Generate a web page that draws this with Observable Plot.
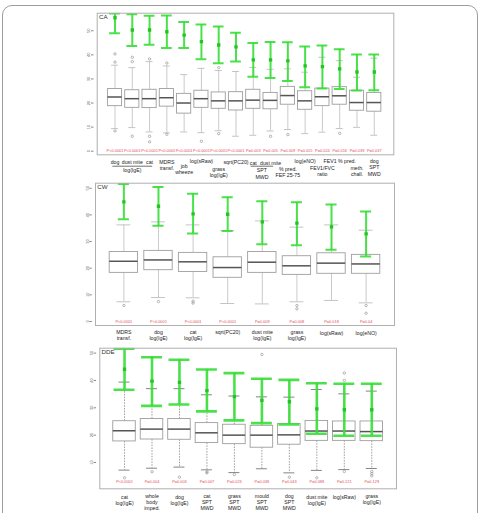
<!DOCTYPE html>
<html><head><meta charset="utf-8">
<script src="https://cdn.jsdelivr.net/npm/d3@7"></script>
<script src="https://cdn.jsdelivr.net/npm/@observablehq/plot@0.6"></script>
<style>
html,body{margin:0;padding:0;background:#fff;}
#wrap{position:relative;width:481px;height:513px;overflow:hidden;font-family:"Liberation Sans",Arial,sans-serif;}
#border{position:absolute;left:2px;top:5px;width:476px;height:530px;border:1px solid #9c9c9c;border-radius:10px;box-sizing:border-box;}
.panel{position:absolute;left:0;}
</style></head><body>
<div id="wrap"><div id="border"></div></div>
<script>
// ---------- Panel CA ----------
const caLabels = ["dog","dust mite","cat","MDRS\ntransf.","job\nwheeze","log(sRaw)","grass\nlog(IgE)","sqrt(PC20)","cat","dust mite","% pred.\nFEF 25-75","log(eNO)","FEV1/FVC\nratio","FEV1 % pred.","meth.\nchall.","dog\nSPT\nMWD"];
const caQ1 = [18.7,18.0,17.9,18.5,15.6,18.0,17.6,16.9,17.6,17.4,19.3,17.2,18.7,19.3,16.8,16.4];
const caMedian = [22.5,21.8,21.8,22.2,20.0,21.8,20.9,20.9,21.2,21.1,23.1,20.9,22.6,23.0,20.2,20.2];
const caQ3 = [25.8,25.3,25.5,25.8,23.8,25.1,24.4,24.5,25.5,24.2,26.7,24.9,26.0,26.6,25.1,24.2];
const caWhiskerLow = [9.4,9.8,8.0,7.6,8.0,7.7,8.5,6.2,6.6,8.4,9.0,7.3,7.9,9.4,9.9,6.6];
const caWhiskerHigh = [35.7,34.7,37.2,35.4,31.8,34.4,33.5,33.1,34.8,34.0,34.2,32.8,39.0,37.6,30.7,38.6];
const caOutliers = [[37.0,40.4,8.4],[39.0,37.2,6.2],[38.3,6.2,3.9],[36.6,7.0],[],[4.1],[34.7,7.3],[],[],[6.2],[6.9],[],[],[7.4],[],[]];
const caMean = [55.4,50.3,50.3,49.6,48.2,45.5,44.1,43.3,37.9,37.9,37.5,35.4,35.1,34.2,32.9,32.9];
const caCiLow = [49.0,43.7,44.2,42.8,42.8,38.2,36.5,37.2,30.9,30.4,29.1,26.6,26.0,25.8,25.2,25.3];
const caCiHigh = [57.2,56.9,56.2,56.3,53.6,52.6,51.8,49.2,44.9,45.3,45.2,43.5,43.9,42.3,40.2,40.1];
const caP = ["P<0.0001","P<0.0001","P<0.0001","P<0.0001","P<0.0001","P<0.0001","P<0.0001","P<0.0001","P=0.003","P=0.005","P=0.009","P=0.015","P=0.024","P=0.016","P=0.039","P=0.037"];
const caGroupFrom = [1, 9];
const caGroupTo = [3, 10];
const caGroupLabel = ["log(IgE)", "SPT\nMWD"];
const caTicks = [0,10,20,30,40,50];

// ---------- Panel CW ----------
const cwLabels = ["MDRS\ntransf.","dog\nlog(IgE)","cat\nlog(IgE)","sqrt(PC20)","dust mite\nlog(IgE)","grass\nlog(IgE)","log(sRaw)","log(eNO)"];
const cwQ1 = [18.25,19.25,18.6,16.4,18.25,17.5,17.9,17.9];
const cwMedian = [22.6,23.1,22.4,20.25,22.25,20.9,21.9,21.6];
const cwQ3 = [26.1,26.5,25.75,24.1,26.1,24.5,25.6,25.0];
const cwWhiskerLow = [7.4,9.0,8.9,6.75,6.6,7.4,7.9,7.0];
const cwWhiskerHigh = [36.25,37.4,36.25,34.1,37.75,35.4,36.25,34.25];
const cwOutliers = [[6.0],[7.5],[7.6,6.9],[],[],[6.0,4.75],[],[6.0,3.1]];
const cwMean = [44.9,43.25,40.4,40.25,37.4,36.9,35.5,32.9];
const cwCiLow = [38.4,35.9,33.0,34.0,29.0,28.6,26.9,24.4];
const cwCiHigh = [51.6,50.5,47.9,46.6,45.1,44.75,43.9,41.25];
const cwP = ["P<0.0001","P<0.0001","P<0.0001","P<0.0001","P=0.009","P=0.008","P=0.018","P=0.04"];
const cwTicks = [0,10,20,30,40,50];

// ---------- Panel DDE ----------
const ddeLabels = ["cat\nlog(IgE)","whole\nbody\nimped.","dog\nlog(IgE)","cat\nSPT\nMWD","grass\nSPT\nMWD","mould\nSPT\nMWD","dog\nSPT\nMWD","dust mite\nlog(IgE)","log(sRaw)","grass\nlog(IgE)"];
const ddeQ1 = [17.7,18.4,18.3,17.1,16.7,15.4,16.5,17.9,17.9,17.8];
const ddeMedian = [21.6,22.2,22.2,20.85,20.0,20.0,20.1,21.5,21.5,21.3];
const ddeQ3 = [25.1,25.9,25.9,24.4,23.8,23.4,24.1,25.2,25.0,25.0];
const ddeWhiskerLow = [7.2,7.9,8.3,7.3,6.3,7.7,6.2,7.1,7.4,7.8];
const ddeWhiskerHigh = [39.4,37.0,37.0,34.75,34.3,34.0,33.9,36.7,35.1,36.1];
const ddeOutliers = [[4.4],[6.6],[4.6],[6.6,6.2],[5.6],[49.5],[4.6],[4.4],[42.7,40.0,6.7],[6.7,5.9,5.1]];
const ddeMean = [44.1,39.75,39.3,36.3,34.1,32.7,32.2,29.6,29.3,29.3];
const ddeCiLow = [36.6,30.7,31.2,28.7,25.4,24.4,23.9,20.5,19.75,19.75];
const ddeCiHigh = [51.6,48.5,47.6,44.0,42.7,40.6,40.2,39.0,38.8,38.8];
const ddeP = ["P<0.0001","P=0.004","P=0.003","P=0.007","P=0.023","P=0.038","P=0.043","P=0.088","P=0.121","P=0.129"];
const ddeTicks = [10,20,30,40,50];

// ---------- layout (positions / styles only) ----------
const layouts = [
  {name:"CA", top:0, height:182, mt:12.7, mb:27.7, ml:96.7, mr:87.7, xDomain:[-0.03,17.13], yDomain:[-1.5,57.3],
   pY:0, capHalf:0.31, greenW:2.0, dashed:false,
   labelDy:[4.6,4.6,4.6,4.9,8.3,3.9,11.3,4.6,5.3,5.6,11.3,3.9,10.6,3.9,10.6,3.9], bracketDy:11.4, groupDy:13.2},
  {name:"CW", top:176, height:170, mt:6.7, mb:21, ml:95, mr:87, xDomain:[0.18,8.82], yDomain:[-1.5,51.9],
   pY:0, capHalf:0.16, greenW:2.0, dashed:false,
   labelDy:[3.9,3.9,3.9,3.9,3.9,3.9,5.2,5.2]},
  {name:"DDE", top:341, height:172, mt:6.7, mb:24.7, ml:99.3, mr:85, xDomain:[0.1,10.9], yDomain:[0.37,51.8],
   pY:3.05, capHalf:0.38, greenW:2.6, dashed:true,
   labelDy:[5.3,4.6,5.3,4.6,4.6,4.6,4.6,5.3,5.3,4.6]}
];

const panelsData = [
  {labels:caLabels,q1:caQ1,med:caMedian,q3:caQ3,wlo:caWhiskerLow,whi:caWhiskerHigh,out:caOutliers,mean:caMean,clo:caCiLow,chi:caCiHigh,p:caP,ticks:caTicks,
   groups: caGroupFrom.map((f,k)=>({from:f,to:caGroupTo[k],label:caGroupLabel[k]}))},
  {labels:cwLabels,q1:cwQ1,med:cwMedian,q3:cwQ3,wlo:cwWhiskerLow,whi:cwWhiskerHigh,out:cwOutliers,mean:cwMean,clo:cwCiLow,chi:cwCiHigh,p:cwP,ticks:cwTicks,groups:[]},
  {labels:ddeLabels,q1:ddeQ1,med:ddeMedian,q3:ddeQ3,wlo:ddeWhiskerLow,whi:ddeWhiskerHigh,out:ddeOutliers,mean:ddeMean,clo:ddeCiLow,chi:ddeCiHigh,p:ddeP,ticks:ddeTicks,groups:[]}
];

const green = "#36de36";
const font = "'Liberation Sans', Arial, sans-serif";

function drawPanel(D, L) {
  const n = D.labels.length;
  const rows = d3.range(n).map(k => ({
    i: k + 1, label: D.labels[k], q1: D.q1[k], med: D.med[k], q3: D.q3[k],
    wlo: D.wlo[k], whi: D.whi[k], mean: D.mean[k], clo: D.clo[k], chi: D.chi[k], p: D.p[k], dy: L.labelDy[k]
  }));
  const outl = rows.flatMap((r, k) => D.out[k].map(v => ({i: r.i, v})));
  const bw = 0.41, sw = 0.2, ch = L.capHalf;
  const whiskerStyle = L.dashed ? {stroke: "#8a8a8a", strokeWidth: 0.8, strokeDasharray: "1.6,1.2"} : {stroke: "#c4c4c4", strokeWidth: 0.9};
  const capStyle = L.dashed ? {stroke: "#777", strokeWidth: 0.9} : {stroke: "#bdbdbd", strokeWidth: 0.9};
  const labelMarks = Array.from(d3.group(rows, d => d.dy), ([dy, rs]) =>
    Plot.text(rs, {x: "i", frameAnchor: "bottom", dy, text: "label", lineAnchor: "top", lineHeight: 1.2, fontSize: 5.2, fill: "#222"}));
  const groupMarks = D.groups.length ? [
    Plot.link(D.groups, {x1: d => d.from - 0.15, x2: d => d.to + 0.15, y1: () => L.yDomain[0], y2: () => L.yDomain[0], dy: L.bracketDy, stroke: "#333", strokeWidth: 0.7}),
    Plot.text(D.groups, {x: d => (d.from + d.to) / 2, frameAnchor: "bottom", dy: L.groupDy, text: "label", lineAnchor: "top", lineHeight: 1.2, fontSize: 5.2, fill: "#222"})
  ] : [];
  return Plot.plot({
    width: 481, height: L.height,
    marginTop: L.mt, marginBottom: L.mb, marginLeft: L.ml, marginRight: L.mr,
    x: {domain: L.xDomain, axis: null},
    y: {domain: L.yDomain, axis: null},
    style: {background: "transparent", overflow: "visible", fontFamily: font},
    marks: [
      Plot.axisY({ticks: D.ticks, tickSize: 2.5, tickPadding: 1.2, tickRotate: -90, fontSize: 4, dx: -3.2, stroke: "#888", color: "#666"}),
      Plot.ruleX(rows, {x: "i", y1: "q3", y2: "whi", ...whiskerStyle}),
      Plot.ruleX(rows, {x: "i", y1: "q1", y2: "wlo", ...whiskerStyle}),
      Plot.ruleY(rows, {y: "whi", x1: d => d.i - sw, x2: d => d.i + sw, ...capStyle}),
      Plot.ruleY(rows, {y: "wlo", x1: d => d.i - sw, x2: d => d.i + sw, ...capStyle}),
      Plot.rect(rows, {x1: d => d.i - bw, x2: d => d.i + bw, y1: "q1", y2: "q3", fill: "white", stroke: "#9e9e9e", strokeWidth: 0.9}),
      Plot.ruleY(rows, {y: "med", x1: d => d.i - bw, x2: d => d.i + bw, stroke: "#555", strokeWidth: 1.5}),
      Plot.dot(outl, {x: "i", y: "v", r: 1.2, stroke: "#888", strokeWidth: 0.6, fill: "none"}),
      Plot.ruleX(rows, {x: "i", y1: "clo", y2: "chi", stroke: green, strokeWidth: L.greenW, strokeOpacity: 0.9, clip: true}),
      Plot.ruleY(rows, {y: "chi", x1: d => d.i - ch, x2: d => d.i + ch, stroke: green, strokeWidth: L.greenW, strokeOpacity: 0.9, clip: true}),
      Plot.ruleY(rows, {y: "clo", x1: d => d.i - ch, x2: d => d.i + ch, stroke: green, strokeWidth: L.greenW, strokeOpacity: 0.9, clip: true}),
      Plot.dot(rows, {x: "i", y: "mean", symbol: "square", r: 1.9, fill: "#22c522", clip: true}),
      Plot.text(rows, {x: "i", y: () => L.pY, text: "p", fill: "#e2505a", fontSize: 3.9}),
      Plot.frame({stroke: "#b0b0b0", strokeWidth: 1}),
      Plot.text([L.name], {frameAnchor: "top-left", dx: 1.8, dy: 1.2, lineAnchor: "top", text: d => d, fontSize: 6.2, fill: "#333"}),
      ...labelMarks,
      ...groupMarks
    ]
  });
}

const wrap = document.getElementById("wrap");
layouts.forEach((L, k) => {
  const svg = drawPanel(panelsData[k], L);
  svg.classList.add("panel");
  svg.style.top = L.top + "px";
  svg.style.position = "absolute";
  wrap.appendChild(svg);
});
</script>
</body></html>
